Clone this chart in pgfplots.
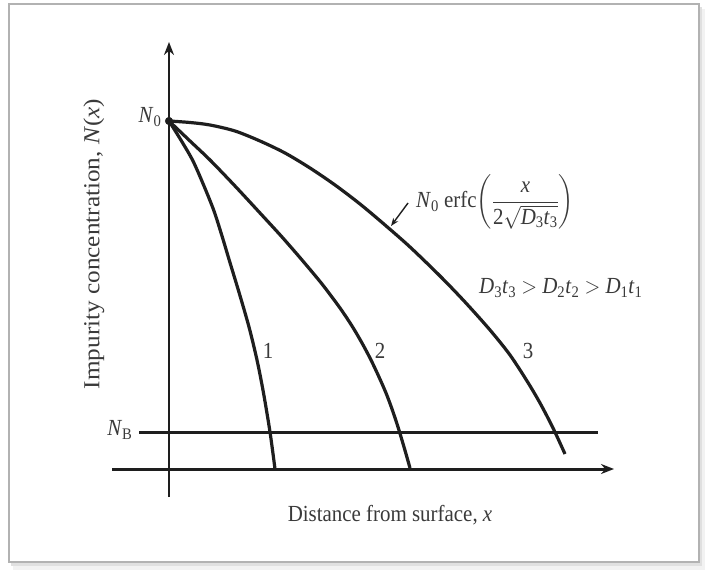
\documentclass[border=0pt]{standalone}
\usepackage{pgfplots}
\pgfplotsset{compat=1.18}
\usepackage{amsmath}
\usepackage{fontspec}
\setmainfont{Liberation Serif}
\usetikzlibrary{arrows.meta}

\definecolor{ink}{HTML}{1E1E1E}
\definecolor{txt}{HTML}{3A3A3A}
\newcommand\vi[1]{\textit{#1}}

\begin{document}
\begin{tikzpicture}
\begin{axis}[
  x=1bp, y=1bp,
  xmin=0, xmax=707, ymin=0, ymax=573,
  y dir=reverse,
  hide axis, clip=false,
]
% outer frame with a soft drop shadow
\path (axis cs:0,0) rectangle (axis cs:707,573);
\fill[black!5] (axis cs:13,9) rectangle (axis cs:705,570);
\fill[black!12] (axis cs:11,7) rectangle (axis cs:702,566);
\filldraw[fill=white, draw=black!30, line width=1.2bp] (axis cs:9,4) rectangle (axis cs:699,562);

% coordinate axes and background level
\addplot[ink, line width=2.8bp, -{Stealth[length=13bp,width=10bp]}] coordinates {(169,497) (169,42)};
\addplot[ink, line width=3bp, -{Stealth[length=13bp,width=10bp]}] coordinates {(112,469) (614,469)};
\addplot[ink, line width=3bp] coordinates {(139,432) (598,432)};

% diffusion profiles (curves 1, 2, 3)
\addplot[ink, line width=3.2bp, smooth] coordinates {
  (169,121) (181.5,141) (193,161) (204,186) (214,211) (222,236) (229.5,261)
  (239.5,294) (249,327) (257,360) (263.5,393) (270,432) (275,469)};
\addplot[ink, line width=3.2bp, smooth] coordinates {
  (169,121) (190,141) (210,160) (235,186) (260,213) (282,237) (302,260)
  (322,284) (340,308) (352,326) (362,343) (371,360) (379,377) (386,393)
  (392,409) (398,427) (404,447) (410,468)};
\addplot[ink, line width=3.2bp, smooth] coordinates {
  (169,121) (190,122.5) (210,125) (235,131) (260,141) (285,153) (310,168)
  (335,185) (360,204) (385,225) (410,247) (440,276) (465,302) (490,330)
  (510,355) (527,381) (540,403) (553,428) (565,454)};

% surface concentration point
\addplot[ink, mark=*, mark size=3.8bp, only marks] coordinates {(169,121)};

% annotation arrow to curve 3
\addplot[ink, line width=1.4bp, -{Stealth[length=8bp,width=6bp]}] coordinates {(408,203) (391,226)};

% labels (the type is set slightly tall and narrow)
\begin{scope}[every node/.style={text=txt, font=\fontsize{21}{25}\selectfont, yscale=1.1}]
\node[anchor=east] at (axis cs:165,117) {\vi{N}\textsubscript{0}};
\node[anchor=east] at (axis cs:136,430) {\vi{N}\textsubscript{B}};
\node at (axis cs:268,351) {1};
\node at (axis cs:380,351) {2};
\node at (axis cs:528,351) {3};
\node[anchor=west, inner sep=0pt] at (axis cs:416,202)
  {\vi{N}\textsubscript{0} erfc$\left(\dfrac{\text{\vi{x}}}{\text{2}\sqrt{\text{\vi{D}}_{\text{3}}\text{\vi{t}}_{\text{3}}}}\right)$};
\node[anchor=west, inner sep=0pt] at (axis cs:479,288)
  {\vi{D}\textsubscript{3}\vi{t}\textsubscript{3} $>$ \vi{D}\textsubscript{2}\vi{t}\textsubscript{2} $>$ \vi{D}\textsubscript{1}\vi{t}\textsubscript{1}};
\node at (axis cs:390,515) {Distance from surface, \vi{x}};
\end{scope}
\node[text=txt, font=\fontsize{23}{27}\selectfont, rotate=90, xscale=1.1]
  at (axis cs:94,244) {Impurity concentration, \vi{N}(\vi{x})};
\end{axis}
\end{tikzpicture}
\end{document}
